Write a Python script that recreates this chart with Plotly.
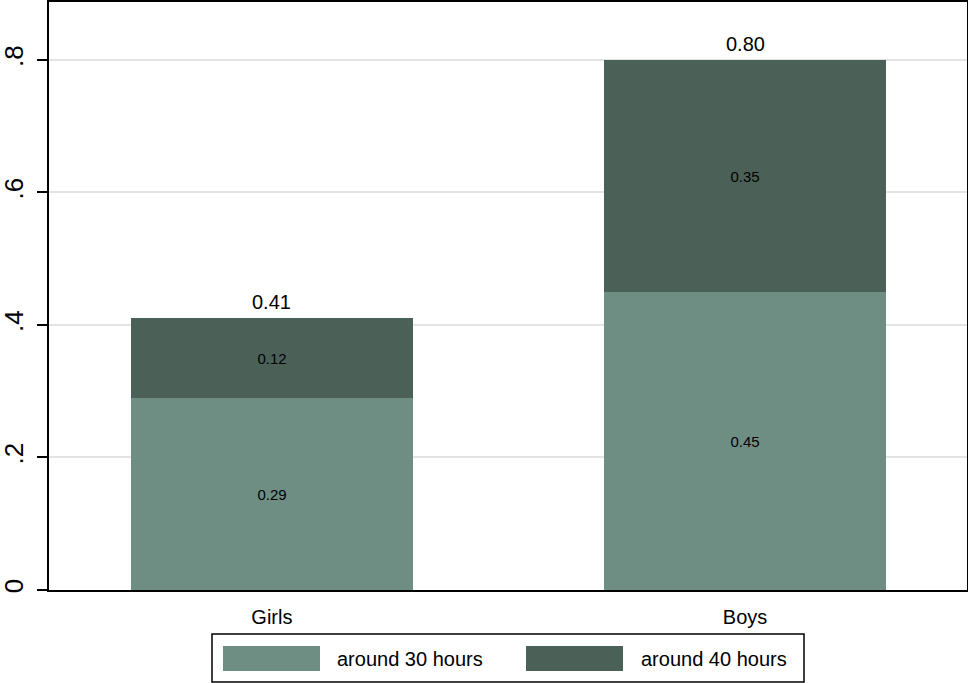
import plotly.graph_objects as go

categories = ["Girls", "Boys"]
series_names = ["around 30 hours", "around 40 hours"]
hours30 = [0.29, 0.45]
hours40 = [0.12, 0.35]
totals = [0.41, 0.80]
y_ticks = [0, 0.2, 0.4, 0.6, 0.8]
y_tick_labels = ["0", ".2", ".4", ".6", ".8"]

colors = ["#6f8e83", "#4b6158"]
FONT = "Liberation Sans, Arial, sans-serif"

fig = go.Figure()
for name, vals, col in zip(series_names, [hours30, hours40], colors):
    fig.add_trace(go.Bar(
        x=[0, 1], y=vals, name=name, marker=dict(color=col, line=dict(width=0)),
        width=0.596, text=[f"{v:.2f}" for v in vals], textposition="inside",
        insidetextanchor="middle", textangle=0,
        textfont=dict(color="black", size=15, family=FONT),
        showlegend=False,
    ))

for i, t in enumerate(totals):
    fig.add_annotation(x=i, y=t, text=f"{t:.2f}", showarrow=False,
                       yanchor="bottom", yshift=3,
                       font=dict(size=20, color="black", family=FONT))

# custom legend (paper coordinates)
W, H = 918, 588
def px(x):
    return (x - 49) / W
def py(y):
    return (590 - y) / H

fig.add_shape(type="rect", xref="paper", yref="paper",
              x0=px(212), x1=px(804), y0=py(634), y1=py(682),
              line=dict(color="black", width=1.5), fillcolor="white")
leg_sym = [(223, 320, 335), (526, 623, 639)]
for (sx0, sx1, tx), name, col in zip(leg_sym, series_names, colors):
    fig.add_shape(type="rect", xref="paper", yref="paper",
                  x0=px(sx0), x1=px(sx1), y0=py(646), y1=py(671),
                  line=dict(width=0), fillcolor=col)
    fig.add_annotation(xref="paper", yref="paper", x=px(tx), y=py(659),
                       text=name, showarrow=False, xanchor="left", yanchor="middle",
                       font=dict(size=20, color="black", family=FONT))

fig.update_layout(
    width=968, height=683,
    margin=dict(l=49, r=1, t=2, b=93),
    barmode="stack", bargap=0,
    plot_bgcolor="white", paper_bgcolor="white",
    font=dict(family=FONT, color="black"),
    showlegend=False,
)
fig.update_xaxes(
    range=[-0.471, 1.469], tickvals=[0, 1], ticktext=categories,
    tickfont=dict(size=20, family=FONT, color="black"),
    showgrid=False, zeroline=False, showline=True, linecolor="black", linewidth=2,
    mirror=True, ticks="", ticklabelstandoff=8, automargin=False,
)
fig.update_yaxes(
    range=[0, 0.8875], tickvals=y_ticks, ticktext=y_tick_labels, tickangle=-90,
    tickfont=dict(size=26, family=FONT, color="black"),
    showgrid=True, gridcolor="#e3e3e3", gridwidth=1.5, zeroline=False,
    showline=True, linecolor="black", linewidth=2, mirror=True,
    ticks="outside", ticklen=10, tickcolor="black", tickwidth=1.5,
    ticklabelstandoff=4, automargin=False,
)

fig.write_html("out.html", config={"displayModeBar": False},
               post_script="document.body.style.margin='0px';document.body.style.overflow='hidden';")
